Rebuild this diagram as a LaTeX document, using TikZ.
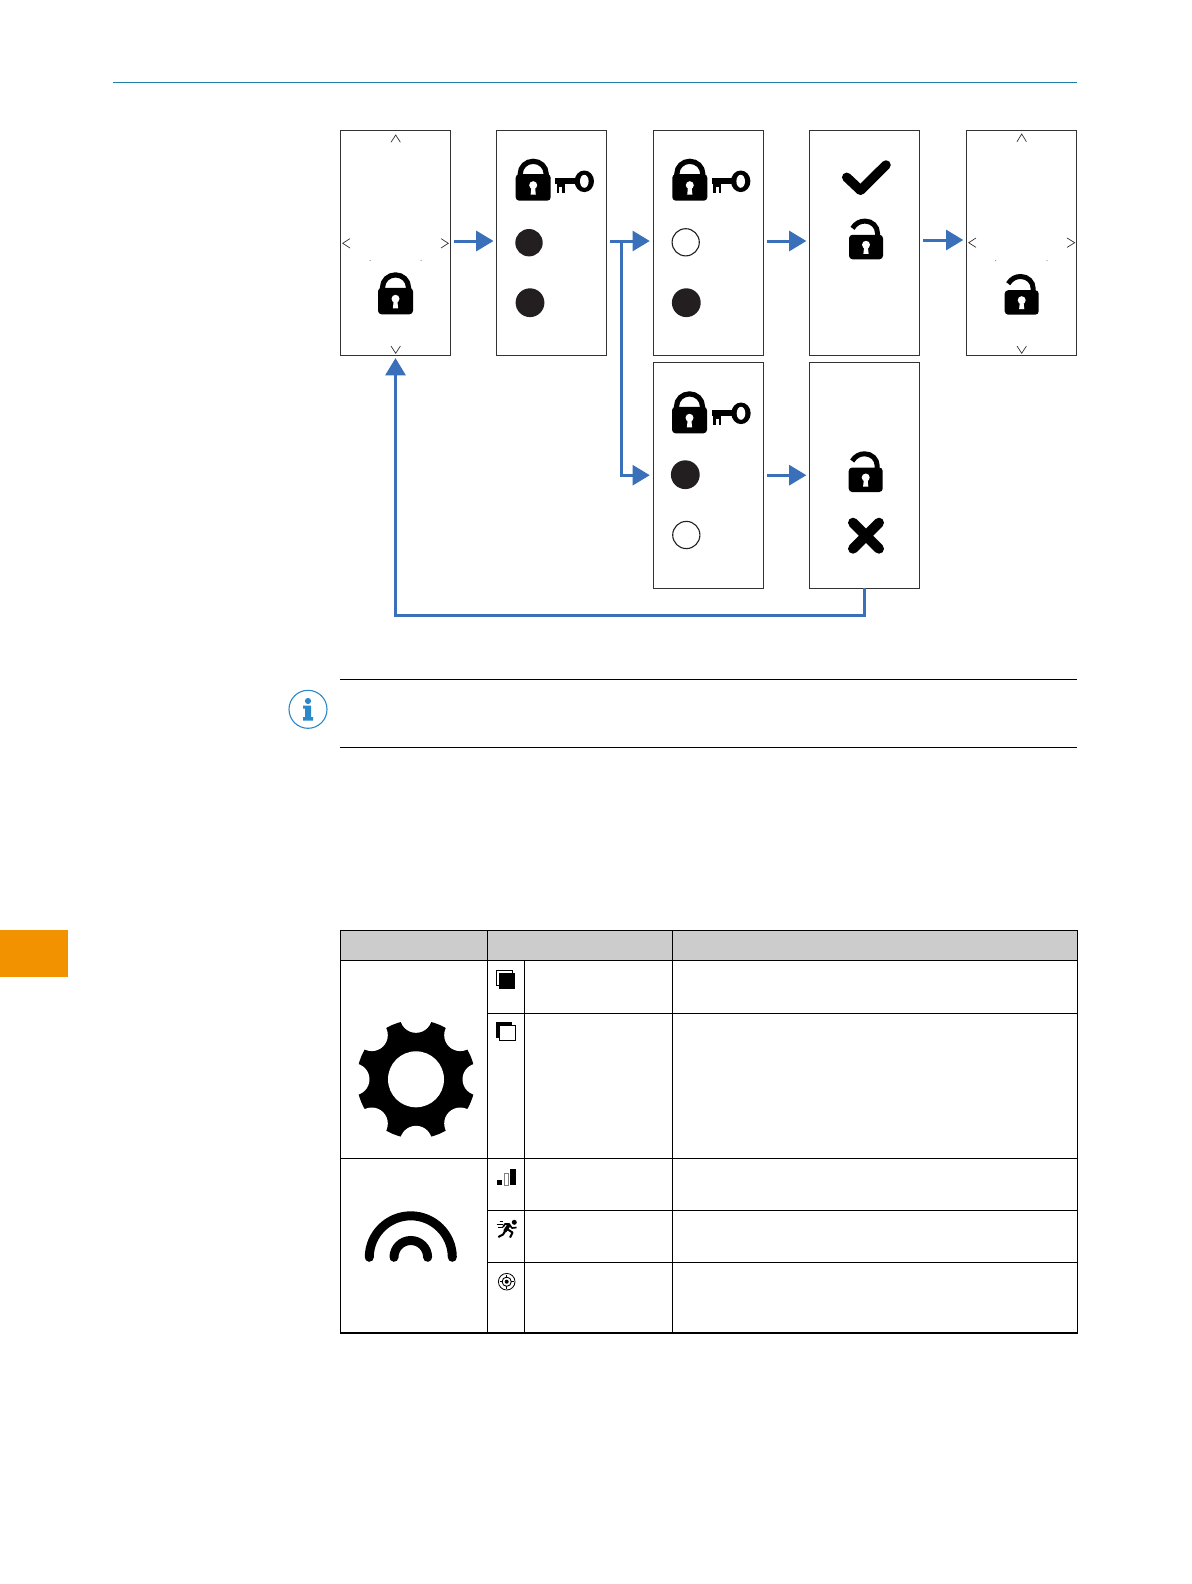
\documentclass[tikz,border=0pt]{standalone}
\usetikzlibrary{arrows.meta}
\definecolor{flowblue}{HTML}{3A70B9}
\definecolor{ruleteal}{HTML}{1F7FA6}
\definecolor{infoblue}{HTML}{2B88C9}
\definecolor{dotgrey}{HTML}{231F20}
\definecolor{tabgrey}{HTML}{CCCCCC}
\definecolor{taborange}{HTML}{F39200}
\tikzset{
  screen/.style={draw=black!80,line width=0.9pt,fill=white,minimum width=110pt,minimum height=225.5pt,inner sep=0pt,outer sep=0pt},
  flow/.style={draw=flowblue,line width=3pt,-{Triangle[length=17.3pt,width=20pt,fill=flowblue]},shorten <=3.5pt,shorten >=3.2pt},
  chev/.style={draw=black!80,line width=0.7pt,line join=miter},
  bullet/.style={fill=dotgrey},
  hollow/.style={draw=dotgrey,line width=1.1pt,fill=white},
  tline/.style={draw=black,line width=1.2pt},
  lockshut/.pic={
    \fill[black,rounded corners=3.5pt] (-17.5,-26.5) rectangle (17.5,0);
    \draw[black,line width=5.2pt] (-13,-24) -- (-13,-26.7) .. controls (-13,-33.9) and (-7.2,-39.4) .. (0,-39.4) .. controls (7.2,-39.4) and (13,-33.9) .. (13,-26.7) -- (13,-24);
    \fill[white] (0,-15.5) circle (4);
    \fill[white] (-1.8,-14) -- (-2.6,-6) -- (2.6,-6) -- (1.8,-14) -- cycle;
  },
  lockopen/.pic={
    \fill[black,rounded corners=3.5pt] (-17,-24.5) rectangle (17,0);
    \draw[black,line width=5pt] (-13.5,-31) .. controls (-10.5,-36) and (-6,-38.2) .. (-1,-38.2) .. controls (6,-38.2) and (11.5,-33) .. (11.5,-26) -- (11.5,-20);
    \fill[white] (0,-14.5) circle (4);
    \fill[white] (-1.8,-13) -- (-2.6,-5.5) -- (2.6,-5.5) -- (1.8,-13) -- cycle;
  },
  keyicon/.pic={
    \fill[black] (-29,-3) rectangle (-6,2.7);
    \fill[black] (-27.6,2.7) rectangle (-19.6,11.4);
    \fill[white] (-25,6) rectangle (-22.2,11.6);
    \fill[black] (0,0) ellipse (9.7 and 10.8);
    \fill[white] (0,0) ellipse (4.3 and 6.5);
  }
}
\begin{document}
\begin{tikzpicture}[x=1pt,y=-1pt]
\useasboundingbox (0,0) rectangle (1191,1584);
\fill[white] (0,0) rectangle (1191,1584);

% page furniture
\draw[ruleteal,line width=1.1pt] (113,82.3) -- (1077,82.3);
\fill[taborange] (0,930.3) rectangle (68,976.7);

% screens
\node[screen] (A) at (395.5,243) {};
\node[screen] (B) at (551.7,243) {};
\node[screen] (C) at (708,243) {};
\node[screen] (D) at (864.6,243) {};
\node[screen] (E) at (1021.5,243) {};
\node[screen] (Ctwo) at (708,475.2) {};
\node[screen] (Dtwo) at (864.6,475.2) {};

% connectors
\coordinate (fork) at (621.7,241);
\draw[flow] ([yshift=2pt]A.east) -- ([yshift=2pt]B.west);
\draw[flow] ([yshift=2pt]B.east) -- ([yshift=2pt]C.west);
\draw[flow] ([yshift=2pt]C.east) -- ([yshift=2pt]D.west);
\draw[flow] ([yshift=3pt]D.east) -- ([yshift=3pt]E.west);
\draw[flow,shorten <=0pt] (fork) |- (Ctwo.west);
\draw[flow] (Ctwo.east) -- (Dtwo.west);
\draw[flow,shorten <=0pt,shorten >=2.3pt,line join=miter] (Dtwo.south) -- ++(0,27.3) -| (A.south);

% screen A and E furniture
\draw[chev] (391,142.3) -- (395.7,135) -- (400.4,142.3);
\draw[chev] (391,346) -- (395.7,353.3) -- (400.4,346);
\draw[chev] (350,238.6) -- (342.7,243.3) -- (350,248);
\draw[chev] (441,238.6) -- (448.3,243.3) -- (441,248);
\fill[black!60] (370,260.5) circle (0.5) (421,260.5) circle (0.5);
\pic at (395.5,314.3) {lockshut};

\draw[chev] (1017,141.7) -- (1021.7,134) -- (1026.4,141.7);
\draw[chev] (1017,346) -- (1021.7,353.3) -- (1026.4,346);
\draw[chev] (976,238) -- (968.7,242.7) -- (976,247.4);
\draw[chev] (1067,238) -- (1074.7,242.7) -- (1067,247.4);
\fill[black!60] (995.7,260.7) circle (0.5) (1047,260.7) circle (0.5);
\pic at (1021.7,314.7) {lockopen};

% screen B
\pic at (533.2,200.7) {lockshut};
\pic at (584.3,181.3) {keyicon};
\fill[bullet] (529,242.7) circle (13.7);
\fill[bullet] (530,302.7) circle (14.4);

% screen C
\pic at (689.8,200.7) {lockshut};
\pic at (740.7,181.3) {keyicon};
\draw[hollow] (685.7,242.3) circle (13.6);
\fill[bullet] (686.3,302.7) circle (14.4);

% screen C2
\pic at (689.5,433.3) {lockshut};
\pic at (741,413.3) {keyicon};
\fill[bullet] (685.3,474.7) circle (14.4);
\draw[hollow] (686.3,535) circle (13.6);

% screen D
\draw[black,line width=9.5pt,line cap=round,line join=round] (846.7,177.3) -- (860.5,190.3) -- (886,165);
\pic at (866,259.3) {lockopen};

% screen D2
\pic at (865.7,492) {lockopen};
\draw[black,line width=10pt,line cap=round] (853,522.7) -- (879,548.7) (879,522.7) -- (853,548.7);

% note
\draw[black,line width=1pt] (340,679.7) -- (1077,679.7);
\draw[black,line width=1pt] (340,747.3) -- (1077,747.3);
\draw[infoblue,line width=1.1pt] (308,709.3) circle (19);
\fill[infoblue] (308,701) circle (3.1);
\fill[infoblue] (303,705.5) -- (311,705.5) -- (311,717) -- (313,717) -- (313,720.5) -- (303,720.5) -- (303,717) -- (305,717) -- (305,708.5) -- (303,708.5) -- cycle;

% gear
\fill[black] (416,1079.3) circle (59.3);
\foreach \a in {0,45,...,315}
  \fill[white] (416,1079.3) ++(\a:62.5 and 62.5) circle (16);
\fill[white] (416,1079.3) circle (28);

% table
\fill[tabgrey] (340.3,930.3) rectangle (1077.7,960.3);
\draw[tline] (340.3,930.3) rectangle (1077.7,1333);
\draw[tline] (340.3,960.3) -- (1077.7,960.3);
\draw[tline] (340.3,1158.3) -- (1077.7,1158.3);
\draw[tline] (487.3,1013.3) -- (1077.7,1013.3);
\draw[tline] (487.3,1210.3) -- (1077.7,1210.3);
\draw[tline] (487.3,1262.3) -- (1077.7,1262.3);
\draw[tline] (487.3,930.3) -- (487.3,1333);
\draw[tline] (524.3,960.3) -- (524.3,1333);
\draw[tline] (672.7,930.3) -- (672.7,1333);

% signal arcs
\draw[black,line width=9pt,line cap=round] (369.3,1257.3) .. controls (369.3,1234.4) and (387.9,1215.8) .. (410.8,1215.8) .. controls (433.7,1215.8) and (452.3,1234.4) .. (452.3,1257.3);
\draw[black,line width=9pt,line cap=round] (394,1257.3) .. controls (394,1248) and (401.5,1240.5) .. (410.8,1240.5) .. controls (420.1,1240.5) and (427.6,1248) .. (427.6,1257.3);

% overlay icons
\draw[black,line width=0.9pt] (496.3,970.3) rectangle (512,985.7);
\fill[black] (499,973) rectangle (515,989);
\fill[black] (496.3,1022) rectangle (512,1037.7);
\draw[black,line width=0.9pt,fill=white] (499.3,1025) rectangle (515,1040.7);

% bars
\fill[black] (496.7,1180) rectangle (502.3,1185.2);
\draw[black!50,line width=0.8pt] (504.3,1173.5) rectangle (508,1185);
\fill[black] (510,1169) rectangle (516.3,1185.2);

% runner
\fill[black] (514.3,1222.3) circle (2.5);
\draw[black,line width=0.7pt] (496.5,1224) -- (503,1224) (498,1227) -- (503,1227) (499.5,1221.5) -- (503,1221.5);
\draw[black,line width=3.5pt,line cap=round] (505,1231) -- (509,1225);
\draw[black,line width=2pt,line join=round] (498.3,1237) -- (503,1234.5) -- (505.5,1230.5);
\draw[black,line width=2pt,line join=round] (507,1229) -- (512.5,1232.5) -- (510,1237.5);
\draw[black,line width=1.7pt,line join=round] (503,1227) -- (505,1224) -- (509,1224) -- (512,1228) -- (516.5,1227.5);

% target
\draw[black,line width=0.8pt] (506.7,1281.7) circle (8.3);
\draw[black,line width=0.9pt] (506.7,1281.7) circle (4.6);
\fill[black] (506.7,1281.7) circle (2);
\draw[black,line width=0.5pt] (506.7,1274.5) -- (506.7,1277.5) (506.7,1286) -- (506.7,1289) (499.5,1281.7) -- (502.5,1281.7) (511,1281.7) -- (514,1281.7);
\end{tikzpicture}
\end{document}
